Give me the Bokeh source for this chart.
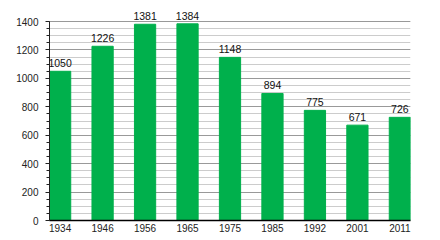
from bokeh.plotting import figure
from bokeh.models import ColumnDataSource, Range1d, FixedTicker, LabelSet
from bokeh.core.properties import value
from bokeh.embed import file_html
from bokeh.resources import INLINE

years = ["1934", "1946", "1956", "1965", "1975", "1985", "1992", "2001", "2011"]
population = [1050, 1226, 1381, 1384, 1148, 894, 775, 671, 726]
y_major = [0, 200, 400, 600, 800, 1000, 1200, 1400]
y_minor = list(range(0, 1401, 50))

idx = list(range(len(years)))
src = ColumnDataSource(dict(x=idx, top=population, lab=[str(v) for v in population]))

p = figure(width=440, height=240, output_backend="svg", toolbar_location=None,
           x_range=Range1d(-0.25, len(years) - 0.75), y_range=Range1d(0, 1520),
           min_border_left=49, min_border_right=30, min_border_top=4, min_border_bottom=20)
p.outline_line_color = None
p.background_fill_color = "white"
p.border_fill_color = "white"

p.vbar(x="x", top="top", width=0.5, bottom=0, source=src, color="#00b04c")

labels = LabelSet(x="x", y="top", text="lab", source=src, text_align="center",
                  text_baseline="bottom", y_offset=4, text_font_size=value("10.5px"),
                  text_font=value("Liberation Sans"), text_color="#111111")
p.add_layout(labels)

p.xgrid.grid_line_color = None
p.ygrid.ticker = FixedTicker(ticks=y_major, minor_ticks=y_minor)
p.ygrid.grid_line_color = "#999999"
p.ygrid.grid_line_width = 1
p.ygrid.minor_grid_line_color = "#cccccc"
p.ygrid.minor_grid_line_width = 1
p.ygrid.level = "underlay"

p.yaxis.ticker = FixedTicker(ticks=y_major, minor_ticks=y_minor)
p.yaxis.bounds = (0, 1400)
p.yaxis.axis_line_color = "#222222"
p.yaxis.major_tick_line_color = "#222222"
p.yaxis.minor_tick_line_color = "#222222"
p.yaxis.major_tick_out = 4
p.yaxis.major_tick_in = 0
p.yaxis.minor_tick_out = 3
p.yaxis.minor_tick_in = 0
p.yaxis.major_label_standoff = 7
p.yaxis.major_label_text_font = "Liberation Sans"
p.yaxis.major_label_text_font_size = "10px"
p.yaxis.major_label_text_color = "#222222"

p.xaxis.ticker = FixedTicker(ticks=idx)
p.xaxis.major_label_overrides = {i: y for i, y in zip(idx, years)}
p.xaxis.axis_line_color = "#000000"
p.xaxis.axis_line_width = 1.5
p.xaxis.major_tick_line_color = None
p.xaxis.minor_tick_line_color = None
p.xaxis.major_tick_out = 0
p.xaxis.major_tick_in = 0
p.xaxis.major_label_standoff = 3
p.xaxis.major_label_text_font = "Liberation Sans"
p.xaxis.major_label_text_font_size = "10px"
p.xaxis.major_label_text_color = "#222222"

open("out.html", "w").write(file_html(p, INLINE))
